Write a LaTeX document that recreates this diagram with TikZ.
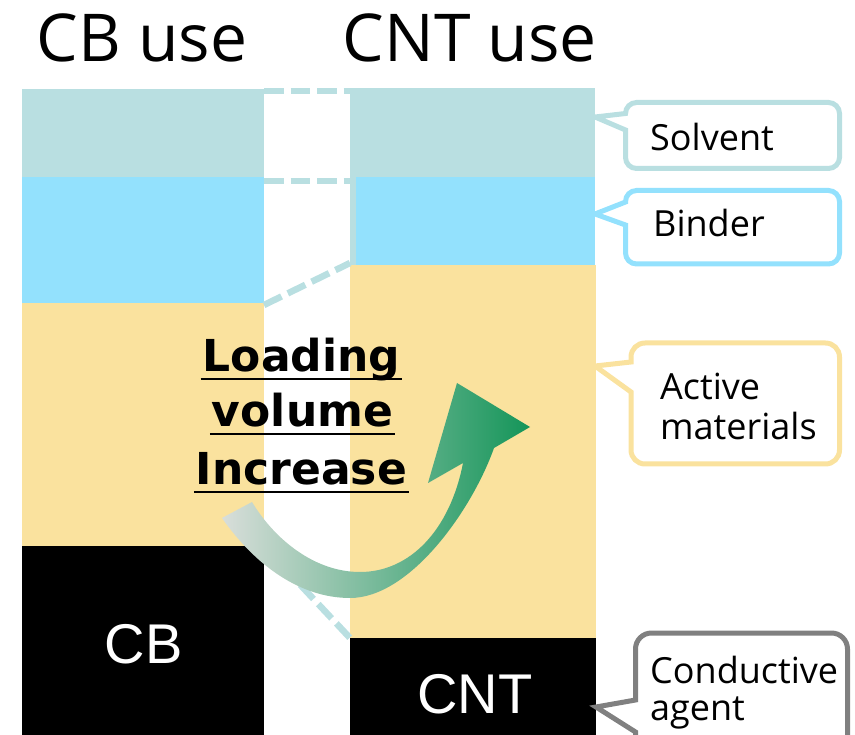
\documentclass[tikz,border=0pt]{standalone}
\usepackage{fontspec}
\setmainfont{Open Sans}
\newfontfamily\labelfont{DejaVu Sans}
\newfontfamily\blockfont{Liberation Sans}

\definecolor{solvc}{HTML}{B9DFE1}
\definecolor{bindc}{HTML}{93E1FD}
\definecolor{actc}{HTML}{FAE29E}
\definecolor{agentgray}{HTML}{808080}
\definecolor{arrowtail}{HTML}{D9DEDA}
\definecolor{arrowmid}{HTML}{A5C9BB}
\definecolor{arrowhead}{HTML}{149559}

\begin{document}
\begin{tikzpicture}[x=1pt,y=-1pt,
  guide/.style={draw=solvc, line width=6.5pt, dash pattern=on 19.5pt off 7pt},
  callout/.style={line width=5pt, fill=white},
  calltext/.style={font=\fontsize{36}{38}\selectfont, anchor=base west, inner sep=0pt},
  title/.style={font=\fontsize{66}{70}\selectfont, anchor=base, inner sep=0pt},
  blocktext/.style={font=\blockfont\fontsize{56}{60}\selectfont, text=white, anchor=base, inner sep=0pt},
  loadtext/.style={font=\labelfont\bfseries\fontsize{44}{48}\selectfont, anchor=base, inner sep=0pt},
  uline/.style={line width=2.7pt}
]
\useasboundingbox (0,0) rectangle (855,735);
\clip (0,0) rectangle (855,735);

% titles
\node[title] (tcb) at (142,62) {CB use};
\node[title] (tcnt) at (470,62) {CNT use};

% CB column
\fill[solvc] (22,89) rectangle (264,177);
\fill[bindc] (22,177) rectangle (264,303);
\fill[actc]  (22,303) rectangle (264,546);
\fill[black] (22,546) rectangle (264,735);

% CNT column
\fill[solvc] (350,88) rectangle (595,177);
\fill[solvc] (350,177) rectangle (356,265);
\fill[bindc] (356,177) rectangle (595,265);
\fill[actc]  (350,265) rectangle (596,638);
\fill[black] (350,638) rectangle (596,735);

% level guides between the columns
\coordinate (gaL) at (264,91);  \coordinate (gaR) at (350,91);
\coordinate (gbL) at (264,181); \coordinate (gbR) at (350,181);
\coordinate (gcL) at (264,305); \coordinate (gcR) at (350,263);
\coordinate (gdL) at (264,546); \coordinate (gdR) at (350,638);
\draw[guide] (gaL) -- (gaR);
\draw[guide] (gbL) -- (gbR);
\draw[guide] (gcL) -- (gcR);
\draw[guide] (gdL) -- (gdR);

% block labels
\node[blocktext] (cb) at (143.5,663) {CB};
\node[blocktext] (cnt) at (475,713) {CNT};

% curved arrow, pale at the tail and green at the head
\shade[left color=arrowtail, middle color=arrowmid, right color=arrowhead]
  (222,518) .. controls (255,565) and (300,598) .. (350,598)
  .. controls (410,598) and (472,510) .. (494,448)
  -- (530,427) -- (457,383) -- (428,483) -- (463,463)
  .. controls (450,530) and (410,572) .. (360,572)
  .. controls (315,572) and (275,540) .. (252,502) -- cycle;

% loading volume label
\node[loadtext] (l1) at (301.5,372) {Loading};
\node[loadtext] (l2) at (302.5,427) {volume};
\node[loadtext] (l3) at (301.5,485) {Increase};
\draw[uline] ([xshift=-2pt,yshift=-7pt]l1.base west) -- ([xshift=2pt,yshift=-7pt]l1.base east);
\draw[uline] ([xshift=-2pt,yshift=-7pt]l2.base west) -- ([xshift=2pt,yshift=-7pt]l2.base east);
\draw[uline] ([xshift=-2pt,yshift=-7pt]l3.base west) -- ([xshift=2pt,yshift=-7pt]l3.base east);

% callouts
\draw[callout, draw=solvc] (595,117) -- (625.5,113.5) [rounded corners=11pt] -- (625.5,102.5) -- (839.5,102.5) -- (839.5,168.5) -- (625.5,168.5) [sharp corners] -- (625.5,130) -- cycle;
\node[calltext] (solv) at (650,151) {Solvent};

\draw[callout, draw=bindc] (595,214) -- (625.5,202) [rounded corners=11pt] -- (625.5,190.5) -- (839.5,190.5) -- (839.5,264) -- (625.5,264) [sharp corners] -- (625.5,225) -- cycle;
\node[calltext] (bind) at (653,237) {Binder};

\draw[callout, draw=actc] (595,366) -- (631,362) [rounded corners=14pt] -- (631,343) -- (839.5,343) -- (839.5,464) -- (631,464) [sharp corners] -- (631,392) -- cycle;
\node[calltext] (act1) at (660,400) {Active};
\node[calltext] (act2) at (660,440) {materials};

\draw[callout, draw=agentgray] (596,707) -- (635.5,700) [rounded corners=16pt] -- (635.5,633) -- (847.5,633) -- (847.5,760) -- (635.5,760) [sharp corners] -- (635.5,732) -- cycle;
\node[calltext] (agt1) at (650,683) {Conductive};
\node[calltext] (agt2) at (650,720) {agent};
\end{tikzpicture}
\end{document}
